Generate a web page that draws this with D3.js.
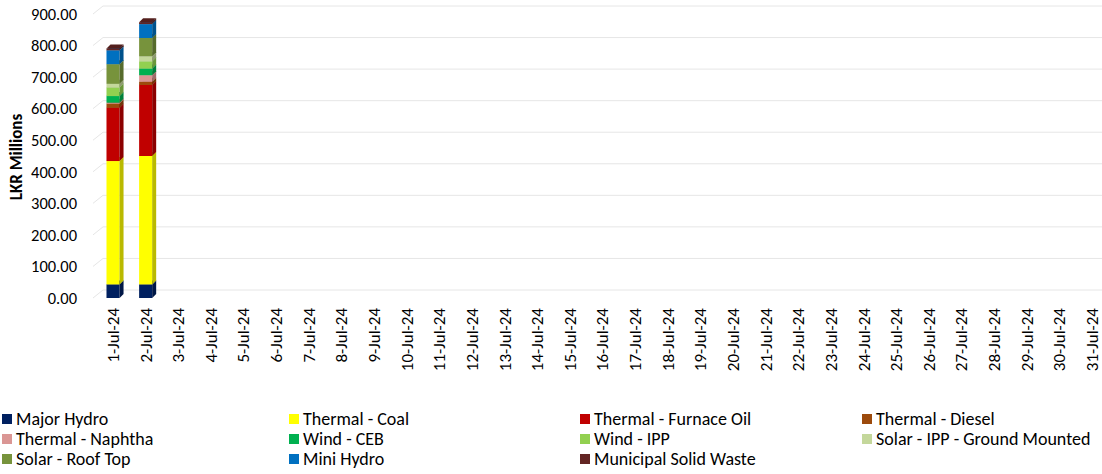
<!DOCTYPE html>
<html>
<head>
<meta charset="utf-8">
<script src="https://cdn.jsdelivr.net/npm/d3@7"></script>
<style>
  body { margin: 0; background: #fff; }
  text { font-family: Carlito, Lato, "Liberation Sans", sans-serif; fill: #000; }
</style>
</head>
<body>
<div id="container"></div>
<script>
const WIDTH = 1102,
  HEIGHT = 474,
  DX = 4, DY = 4,        // bar depth
  WALL_X = 10, WALL_Y = 8 // back wall offset

const dates = ["1-Jul-24", "2-Jul-24", "3-Jul-24", "4-Jul-24", "5-Jul-24", "6-Jul-24", "7-Jul-24",
  "8-Jul-24", "9-Jul-24", "10-Jul-24", "11-Jul-24", "12-Jul-24", "13-Jul-24", "14-Jul-24",
  "15-Jul-24", "16-Jul-24", "17-Jul-24", "18-Jul-24", "19-Jul-24", "20-Jul-24", "21-Jul-24",
  "22-Jul-24", "23-Jul-24", "24-Jul-24", "25-Jul-24", "26-Jul-24", "27-Jul-24", "28-Jul-24",
  "29-Jul-24", "30-Jul-24", "31-Jul-24"]

const seriesNames = ["Major Hydro", "Thermal - Coal", "Thermal - Furnace Oil", "Thermal - Diesel",
  "Thermal - Naphtha", "Wind - CEB", "Wind - IPP", "Solar - IPP - Ground Mounted",
  "Solar - Roof Top", "Mini Hydro", "Municipal Solid Waste"]

const colors = ["#002060", "#FFFF00", "#C00000", "#9C4A0C", "#DA9694", "#00B050",
  "#92D050", "#C4D79B", "#77933C", "#0070C0", "#632523"]

// values for the days that have data (1-Jul, 2-Jul)
const majorHydro = [43, 43]
const thermalCoal = [391, 407]
const furnaceOil = [169, 225]
const diesel = [13, 10]
const naphtha = [3, 21]
const windCEB = [21, 21]
const windIPP = [27, 23]
const solarIPP = [12, 16]
const solarRoofTop = [62, 58]
const miniHydro = [44, 44]
const msw = [6, 6]

const yTicks = [0, 100, 200, 300, 400, 500, 600, 700, 800, 900]

const seriesValues = [majorHydro, thermalCoal, furnaceOil, diesel, naphtha, windCEB,
  windIPP, solarIPP, solarRoofTop, miniHydro, msw]

const table = dates.map((d, i) => {
  const row = { date: d }
  seriesNames.forEach((s, j) => { row[s] = seriesValues[j][i] ?? 0 })
  row.hasData = i < majorHydro.length
  return row
})

const svg = d3.select("#container")
  .append("svg")
  .attr("width", WIDTH)
  .attr("height", HEIGHT)

const xScale = d3.scaleBand()
  .domain(dates)
  .range([96.7, 1108.3])
  .paddingInner(0.6)
  .paddingOuter(0.3)

const yScale = d3.scaleLinear()
  .domain([0, 900])
  .range([298, 14])

// back wall gridlines
const grid = svg.append("g").attr("class", "grid")
yTicks.forEach(t => {
  const y = yScale(t)
  grid.append("path")
    .attr("d", `M93,${y}L${93 + WALL_X},${y - WALL_Y}L${WIDTH},${y - WALL_Y}`)
    .attr("fill", "none")
    .attr("stroke", "#e6e6e6")
    .attr("stroke-width", 1)
})

// y axis labels
const yAxis = svg.append("g")
  .attr("class", "y-axis")
  .attr("transform", "translate(77,0)")
  .call(d3.axisLeft(yScale).tickValues(yTicks).tickFormat(d3.format(".2f")).tickSize(0).tickPadding(0))
yAxis.select(".domain").remove()
yAxis.selectAll("text").style("font-size", "16.5px").style("font-family", null)

svg.append("text")
  .attr("transform", "translate(22,157) rotate(-90)")
  .attr("text-anchor", "middle")
  .style("font-size", "17px")
  .style("font-weight", "bold")
  .text("LKR Millions")

// x axis labels
const xAxis = svg.append("g")
  .attr("class", "x-axis")
  .attr("transform", "translate(0,308)")
  .call(d3.axisBottom(xScale).tickSize(0).tickPadding(0))
xAxis.select(".domain").remove()
xAxis.selectAll("text")
  .attr("transform", "rotate(-90)")
  .attr("text-anchor", "end")
  .attr("x", 0)
  .attr("y", 0)
  .attr("dy", "0.35em")
  .style("font-size", "17px")
  .style("font-family", null)

// stacked 3d bars
const stacked = d3.stack().keys(seriesNames)(table.filter(d => d.hasData))
const shade = (c, k) => d3.color(c).darker(k).formatHex()

const bars = svg.append("g").attr("class", "bars")
table.filter(d => d.hasData).forEach((row, i) => {
  const x = xScale(row.date), w = xScale.bandwidth()
  stacked.forEach((layer, j) => {
    const y0 = yScale(layer[i][0]), y1 = yScale(layer[i][1])
    const g = bars.append("g")
    g.append("rect")
      .attr("x", x).attr("y", y1)
      .attr("width", w).attr("height", y0 - y1)
      .attr("fill", colors[j])
    g.append("path")
      .attr("d", `M${x + w},${y1}L${x + w + DX},${y1 - DY}L${x + w + DX},${y0 - DY}L${x + w},${y0}Z`)
      .attr("fill", shade(colors[j], 0.9))
    g.append("path")
      .attr("d", `M${x},${y1}L${x + DX},${y1 - DY}L${x + w + DX},${y1 - DY}L${x + w},${y1}Z`)
      .attr("fill", shade(colors[j], 0.5))
  })
})

// legend
const legendCols = [2, 289, 580, 862]
const legend = svg.append("g").attr("class", "legend")
seriesNames.forEach((s, i) => {
  const lx = legendCols[i % 4], ly = 419 + Math.floor(i / 4) * 20
  const item = legend.append("g").attr("transform", `translate(${lx},${ly})`)
  item.append("rect")
    .attr("x", 0).attr("y", -5)
    .attr("width", 10).attr("height", 10)
    .attr("fill", colors[i])
  item.append("text")
    .attr("x", 14).attr("y", 0)
    .attr("dy", "0.35em")
    .style("font-size", "18px")
    .text(s)
})
</script>
</body>
</html>
